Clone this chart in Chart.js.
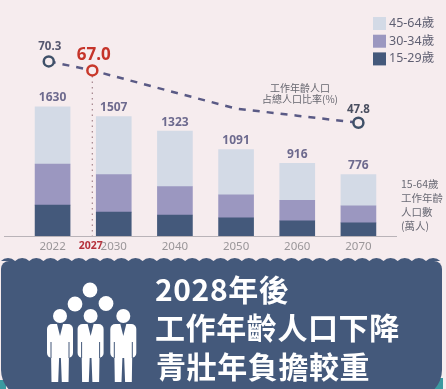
<!DOCTYPE html>
<html lang="zh-Hant">
<head>
<meta charset="utf-8">
<style>
  html, body { margin: 0; padding: 0; background: #f6ecee; }
  canvas { display: block; }
</style>
<script src="https://cdn.jsdelivr.net/npm/chart.js@4"></script>
</head>
<body>
<canvas id="grafico" width="446" height="389"></canvas>
<script>
const years = [2022, 2030, 2040, 2050, 2060, 2070];
const totals = [1630, 1507, 1323, 1091, 916, 776];
const age1529 = [390, 302, 265, 229, 191, 166];
const age3034 = [516, 472, 359, 290, 260, 214];
const age4564 = [724, 733, 699, 572, 465, 396];

const ratioYears = [2021.5, 2027.2, 2040, 2050, 2060, 2070];
const ratioValues = [70.3, 67.0, 58.9, 53.0, 50.4, 47.8];
const ratioLabels = ['70.3', '67.0', '', '', '', '47.8'];

const tickYears = [2022, 2027, 2030, 2040, 2050, 2060, 2070];

const FONT = '"Noto Sans", "Noto Sans CJK TC", sans-serif';
const CJK = '"Noto Sans CJK TC", "Noto Sans", sans-serif';

// year -> position on the x axis (the axis is not even: 8 years, then 10)
function slot(year) {
  return year < 2030 ? (year - 2022) / 8 : (year - 2030) / 10 + 1;
}

const bars = serie => serie.map((v, i) => ({ x: slot(years[i]), y: v }));

function scritta(ctx, text, x, y, font, color, align) {
  ctx.font = font;
  ctx.fillStyle = color;
  ctx.textAlign = align || 'center';
  ctx.textBaseline = 'middle';
  ctx.fillText(text, x, y);
}

function persona(ctx, cx) {
  ctx.fillStyle = '#ffffff';
  ctx.beginPath();
  ctx.arc(cx, 316, 7, 0, Math.PI * 2);
  ctx.fill();
  ctx.beginPath();
  ctx.roundRect(cx - 13, 324, 26, 34, 5);
  ctx.fill();
  ctx.beginPath();
  ctx.moveTo(cx - 9, 350);
  ctx.lineTo(cx - 0.6, 350);
  ctx.lineTo(cx - 1.8, 382);
  ctx.lineTo(cx - 8.5, 382);
  ctx.closePath();
  ctx.moveTo(cx + 9, 350);
  ctx.lineTo(cx + 0.6, 350);
  ctx.lineTo(cx + 1.8, 382);
  ctx.lineTo(cx + 8.5, 382);
  ctx.closePath();
  ctx.fill();
  // collar and arm gaps
  ctx.fillStyle = '#44597b';
  ctx.beginPath();
  ctx.moveTo(cx - 3, 324);
  ctx.lineTo(cx + 3, 324);
  ctx.lineTo(cx, 336);
  ctx.closePath();
  ctx.fill();
  ctx.fillRect(cx - 9.5, 342, 1, 16);
  ctx.fillRect(cx + 8.5, 342, 1, 16);
}

const sfondo = {
  id: 'sfondo',
  beforeDraw(chart) {
    const ctx = chart.ctx;
    ctx.save();
    ctx.fillStyle = '#f6ecee';
    ctx.fillRect(0, 0, 446, 389);

    // teal slivers behind the lower corners
    ctx.fillStyle = '#3b9aa0';
    ctx.fillRect(0, 380, 6, 9);
    ctx.fillRect(434, 378, 9, 11);

    // scalloped panel
    ctx.fillStyle = '#44597b';
    ctx.beginPath();
    ctx.roundRect(1, 261, 441, 137, [8, 8, 28, 28]);
    ctx.fill();
    for (let i = 0; i <= 30; i++) {
      ctx.beginPath();
      ctx.arc(8 + i * 14.17, 268, 10, Math.PI * 1.25, Math.PI * 1.75);
      ctx.fill();
    }
    ctx.restore();
  }
};

const etichette = {
  id: 'etichette',
  afterDatasetsDraw(chart) {
    const ctx = chart.ctx;
    const { x, y, yLine } = chart.scales;
    ctx.save();

    // baseline
    ctx.strokeStyle = '#b9b3b8';
    ctx.lineWidth = 1;
    ctx.beginPath();
    ctx.moveTo(4, y.bottom + 0.5);
    ctx.lineTo(397, y.bottom + 0.5);
    ctx.stroke();

    // totals over the bars
    totals.forEach((t, i) => {
      scritta(ctx, String(t), x.getPixelForValue(slot(years[i])), y.getPixelForValue(t) - 9,
        'bold 12px ' + FONT, '#6d6a8e');
    });

    // ratio labels
    scritta(ctx, ratioLabels[0], x.getPixelForValue(slot(ratioYears[0])) + 1, yLine.getPixelForValue(ratioValues[0]) - 14.5,
      'bold 11.5px ' + FONT, '#55576f');
    scritta(ctx, ratioLabels[1], x.getPixelForValue(slot(ratioYears[1])) + 1.5, yLine.getPixelForValue(ratioValues[1]) - 15.5,
      'bold 17px ' + FONT, '#c5342a');
    scritta(ctx, ratioLabels[5], x.getPixelForValue(slot(ratioYears[5])), yLine.getPixelForValue(ratioValues[5]) - 13,
      'bold 11.5px ' + FONT, '#4a4f60');

    // legend, top band first
    chart.data.datasets.filter(d => d.type !== 'line').reverse().forEach((d, i) => {
      const top = 17 + i * 17.7;
      ctx.fillStyle = d.backgroundColor;
      ctx.fillRect(373, top, 13, 13);
      scritta(ctx, d.label, 389, top + 6.5, '12.5px ' + FONT, '#5f5f72', 'left');
    });

    // notes
    scritta(ctx, '工作年齡人口', 300, 88, '10px ' + CJK, '#66666f');
    scritta(ctx, '占總人口比率(%)', 300, 99, '10px ' + CJK, '#66666f');
    ['15-64歲', '工作年齡', '人口數', '(萬人)'].forEach((t, i) => {
      scritta(ctx, t, 401, 184 + i * 14.1, '10.5px ' + CJK, '#6a6a75', 'left');
    });

    // panel content
    ctx.fillStyle = '#ffffff';
    [[75, 304], [90, 290], [106, 303.5]].forEach(p => {
      ctx.beginPath();
      ctx.arc(p[0], p[1], 7.4, 0, Math.PI * 2);
      ctx.fill();
    });
    [60, 90.6, 123.3].forEach(cx => persona(ctx, cx));

    ctx.letterSpacing = '0.6px';
    scritta(ctx, '2028年後', 155, 290, 'bold 30px ' + CJK, '#ffffff', 'left');
    scritta(ctx, '工作年齡人口下降', 155, 328, 'bold 30px ' + CJK, '#ffffff', 'left');
    scritta(ctx, '青壯年負擔較重', 156, 367, 'bold 30px ' + CJK, '#ffffff', 'left');
    ctx.restore();
  }
};

new Chart(document.getElementById('grafico').getContext('2d'), {
  type: 'bar',
  plugins: [sfondo, etichette],
  data: {
    datasets: [
      {
        type: 'line',
        label: '工作年齡人口占總人口比率(%)',
        data: ratioYears.map((yr, i) => ({ x: slot(yr), y: ratioValues[i] })),
        yAxisID: 'yLine',
        order: 0,
        borderColor: '#5a5a85',
        borderWidth: 2.5,
        borderDash: [7, 7],
        tension: 0,
        pointRadius: [5, 5, 0, 0, 0, 5],
        pointBackgroundColor: '#f6ecee',
        pointBorderColor: ['#3f5068', '#c8382a', '#3f5068', '#3f5068', '#3f5068', '#3f5068'],
        pointBorderWidth: 2.5
      },
      {
        type: 'line',
        label: '2027',
        data: [{ x: slot(ratioYears[1]), y: ratioValues[1] }, { x: slot(ratioYears[1]), y: 6.3 }],
        yAxisID: 'yLine',
        order: 2,
        borderColor: '#a98b93',
        borderWidth: 1.3,
        borderDash: [1.5, 4],
        pointRadius: 0
      },
      { label: '15-29歲', data: bars(age1529), backgroundColor: '#44597b', order: 1, barThickness: 35 },
      { label: '30-34歲', data: bars(age3034), backgroundColor: '#9b97c0', order: 1, barThickness: 35 },
      { label: '45-64歲', data: bars(age4564), backgroundColor: '#d3dae6', order: 1, barThickness: 35 }
    ]
  },
  options: {
    responsive: false,
    animation: false,
    layout: { autoPadding: false, padding: { left: 22, right: 57, top: 0, bottom: 133 } },
    plugins: { legend: { display: false }, tooltip: { enabled: false } },
    scales: {
      x: {
        type: 'linear',
        offset: false,
        stacked: true,
        min: -0.5,
        max: 5.5,
        grid: { display: false, drawTicks: false },
        border: { display: false },
        afterBuildTicks: s => { s.ticks = tickYears.map(yr => ({ value: slot(yr) })); },
        afterFit: s => { s.height = 20; s.paddingLeft = 0; s.paddingRight = 0; },
        ticks: {
          autoSkip: false,
          maxRotation: 0,
          padding: 4,
          callback: (v, i) => String(tickYears[i]),
          color: c => tickYears[c.index] === 2027 ? '#b5303a' : '#9a9699',
          font: c => tickYears[c.index] === 2027
            ? { size: 10.5, weight: 'bold', family: FONT }
            : { size: 11.5, family: FONT }
        }
      },
      y: { stacked: true, display: false, min: 0, max: 2978 },
      yLine: { display: false, min: 6.3, max: 92.8 }
    }
  }
});
</script>
</body>
</html>
